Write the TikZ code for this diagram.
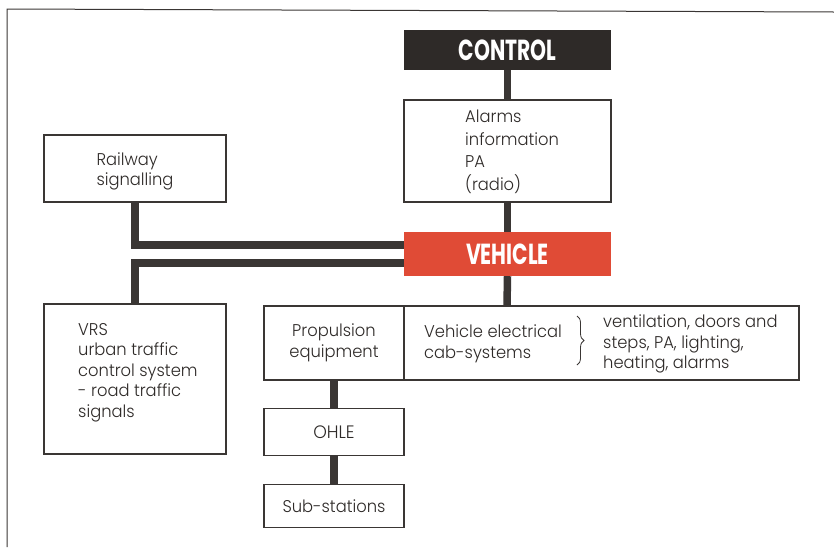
\documentclass[tikz,border=0pt]{standalone}
\usepackage{fontspec}
\setmainfont{Poppins}[FakeStretch=0.96,UprightFont=* Light]
\newfontfamily\headfont{Poppins}[FakeStretch=0.70,UprightFont=* Bold]
\usetikzlibrary{decorations.pathreplacing}
\definecolor{ink}{HTML}{2E2A28}
\definecolor{vred}{HTML}{E04B36}
\definecolor{bordc}{HTML}{3A3634}
\begin{document}
\begin{tikzpicture}[x=1pt,y=-1pt,
  box/.style={draw=bordc,line width=1.2pt,fill=white,inner sep=0pt},
  txt/.style={font=\fontsize{17}{20.5}\selectfont,text=ink,align=left,inner sep=0pt},
  head/.style={inner sep=0pt,font=\headfont\fontsize{29}{30}\selectfont,text=white},
  wire/.style={draw=bordc,line width=7.5pt}]
\useasboundingbox (0,0) rectangle (834,547);
% frame
\draw[bordc,line width=1pt] (834,12) -- (7,9) -- (7,547);
% nodes
\node[head,fill=ink,minimum width=207,minimum height=40] (control) at (507.5,50) {CONTROL};
\node[box,minimum width=207,minimum height=102] (alarms) at (507.5,151) {};
\node[head,fill=vred,minimum width=207,minimum height=44] (vehicle) at (507.5,254) {VEHICLE};
\node[box,minimum width=182,minimum height=67] (rail) at (135,168.5) {};
\node[box,minimum width=182,minimum height=150] (vrs) at (135,379) {};
\node[box,minimum width=140,minimum height=74] (prop) at (334,343) {};
\node[box,minimum width=395,minimum height=74] (elec) at (601.5,343) {};
\node[box,minimum width=140,minimum height=47] (ohle) at (334,432) {};
\node[box,minimum width=140,minimum height=43] (subs) at (334,506) {};
% texts
\node[txt,anchor=west,font=\fontsize{17}{22.5}\selectfont] (alarmstxt) at (465,152) {Alarms\\information\\PA\\(radio)};
\node[txt] (railtxt) at ([yshift=-3pt]rail.center) {Railway\\signalling};
\node[txt,anchor=north west] (vrstxt) at (78,323) {VRS\\urban traffic\\control system\\- road traffic\\signals};
\node[txt,align=center] (proptxt) at (prop.center) {Propulsion\\equipment};
\node[txt,anchor=west] (electxt) at (424,344) {Vehicle electrical\\cab-systems};
\node[txt,anchor=west] (listtxt) at (603,344) {ventilation, doors and\\steps, PA, lighting,\\heating, alarms};
\node[txt,align=center,font=\fontsize{18}{20}\selectfont] (ohletxt) at (ohle.center) {OHLE};
\node[txt,align=center] (substxt) at (subs.center) {Sub-stations};
% brace
\coordinate (bt) at (577,316);
\coordinate (bb) at (577,365);
\draw[bordc,line width=0.8pt,decorate,decoration={brace,amplitude=7pt}] (bt) -- (bb);
% connectors
\draw[wire] (control.south) -- (alarms.north);
\draw[wire] (alarms.south) -- (vehicle.north);
\draw[wire] (rail.south) |- ([yshift=9pt]vehicle.west);
\draw[wire] ([yshift=-9pt]vehicle.west) -| (vrs.north);
\draw[wire] (vehicle.south) -- ([xshift=-94.5pt]elec.north);
\draw[wire] (prop.south) -- (ohle.north);
\draw[wire] (ohle.south) -- (subs.north);
\end{tikzpicture}
\end{document}
